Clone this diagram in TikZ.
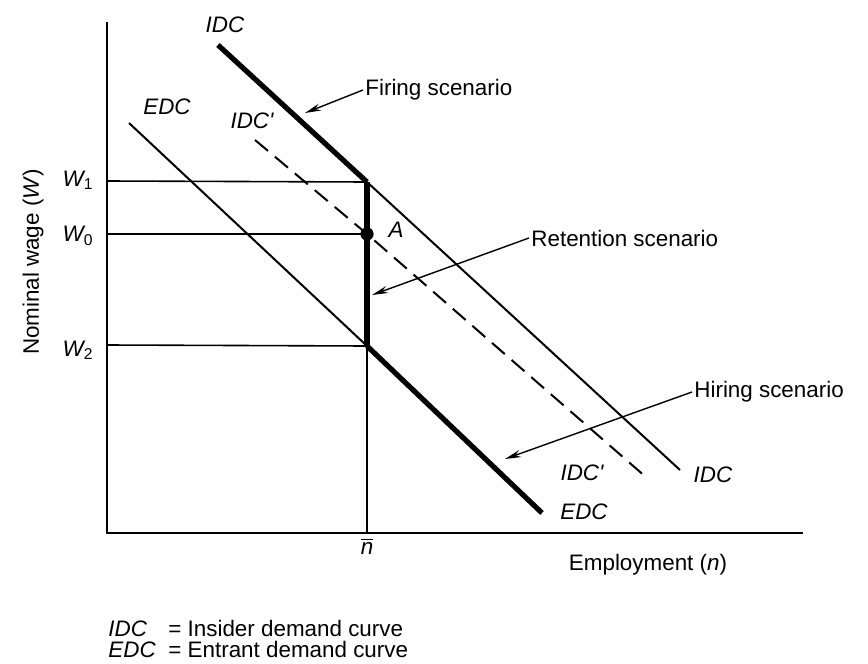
\documentclass[tikz,border=0pt]{standalone}
\usepackage{fontspec}
\setmainfont{Liberation Sans}
\usetikzlibrary{arrows.meta}

\tikzset{
  curve/.style={line width=1pt},
  scenario/.style={line width=2.6pt},
  guide/.style={line width=0.8pt},
  lbl/.style={font=\fontsize{11.2}{13.5}\selectfont\itshape, inner sep=1pt},
  txt/.style={font=\fontsize{11.2}{13.5}\selectfont, inner sep=1pt},
  pointer/.style={line width=0.7pt, -{Stealth[length=8pt,width=3.6pt]}}
}

\begin{document}
\begin{tikzpicture}[x=0.5pt,y=-0.5pt]
\useasboundingbox (0,0) rectangle (868,664);

% Axes
\coordinate (ytop) at (107,22);
\coordinate (O) at (107,533);
\coordinate (xend) at (803,533);
\draw[line width=1.4pt] (ytop) -- (O) -- (xend);

% Wage levels and employment
\coordinate (W1ax) at (107,181);
\coordinate (W0ax) at (107,234);
\coordinate (W2ax) at (107,345);
\coordinate (K1) at (367,182);
\coordinate (A) at (367,234);
\coordinate (K2) at (367,346);
\coordinate (nbar) at (367,533);
\draw[guide] (W1ax) -- (K1);
\draw[guide] (W0ax) -- (A);
\draw[guide] (W2ax) -- (K2);
\draw[guide] (K2) -- (nbar);

% Insider demand curve
\coordinate (idcS) at (218,45);
\coordinate (idcE) at (680,470);
\draw[scenario] (idcS) -- (K1);
\draw[curve] (K1) -- (idcE);

% Shifted insider demand curve
\coordinate (idcpS) at (255,140);
\coordinate (idcpE) at (647,478);
\draw[curve, dash pattern=on 8.5pt off 4.5pt] (idcpS) -- (A) -- (idcpE);

% Entrant demand curve
\coordinate (edcS) at (129,123);
\coordinate (edcE) at (542,513);
\draw[curve] (edcS) -- (K2);
\draw[scenario] (K2) -- (edcE);

% Retention segment
\draw[scenario] (K1) -- (K2);
\fill (A) circle (3.3pt);

% Curve labels
\node[lbl] (idcT) at (225,25) {IDC};
\node[lbl] (edcT) at (167,107) {EDC};
\node[lbl] (idcpT) at (252,121) {IDC\textquotesingle};
\node[lbl] (idcB) at (713,475) {IDC};
\node[lbl] (idcpB) at (582,473) {IDC\textquotesingle};
\node[lbl] (edcB) at (584,512) {EDC};
\node[lbl] (Alab) at (396,230) {A};

% Axis labels
\node[lbl, anchor=east] (W1) at (96,180) {W\textsubscript{\upshape 1}};
\node[lbl, anchor=east] (W0) at (96,236) {W\textsubscript{\upshape 0}};
\node[lbl, anchor=east] (W2) at (96,350) {W\textsubscript{\upshape 2}};
\node[lbl] (nlab) at (367,546) {$\overline{\mbox{\itshape n}}$};
\node[txt] (emp) at (648,565) {Employment (\textit{n})};
\node[txt, rotate=90] (wage) at (33,262) {Nominal wage (\textit{W})};

% Scenarios
\node[txt, anchor=west] (firing) at (363,90) {Firing scenario};
\coordinate (firtip) at (305,113);
\draw[pointer] (firing.west) -- (firtip);

\node[txt, anchor=west] (retain) at (529,238) {Retention scenario};
\coordinate (rettip) at (372,295);
\draw[pointer] (retain.west) -- (rettip);

\node[txt, anchor=west] (hiring) at (692,392) {Hiring scenario};
\coordinate (hirtip) at (505,459);
\draw[pointer] (hiring.west) -- (hirtip);

% Key
\node[txt, anchor=west] (key1) at (106,628) {\makebox[30pt][l]{\itshape IDC}= Insider demand curve};
\node[txt, anchor=west] (key2) at (106,649) {\makebox[30pt][l]{\itshape EDC}= Entrant demand curve};

\end{tikzpicture}
\end{document}
